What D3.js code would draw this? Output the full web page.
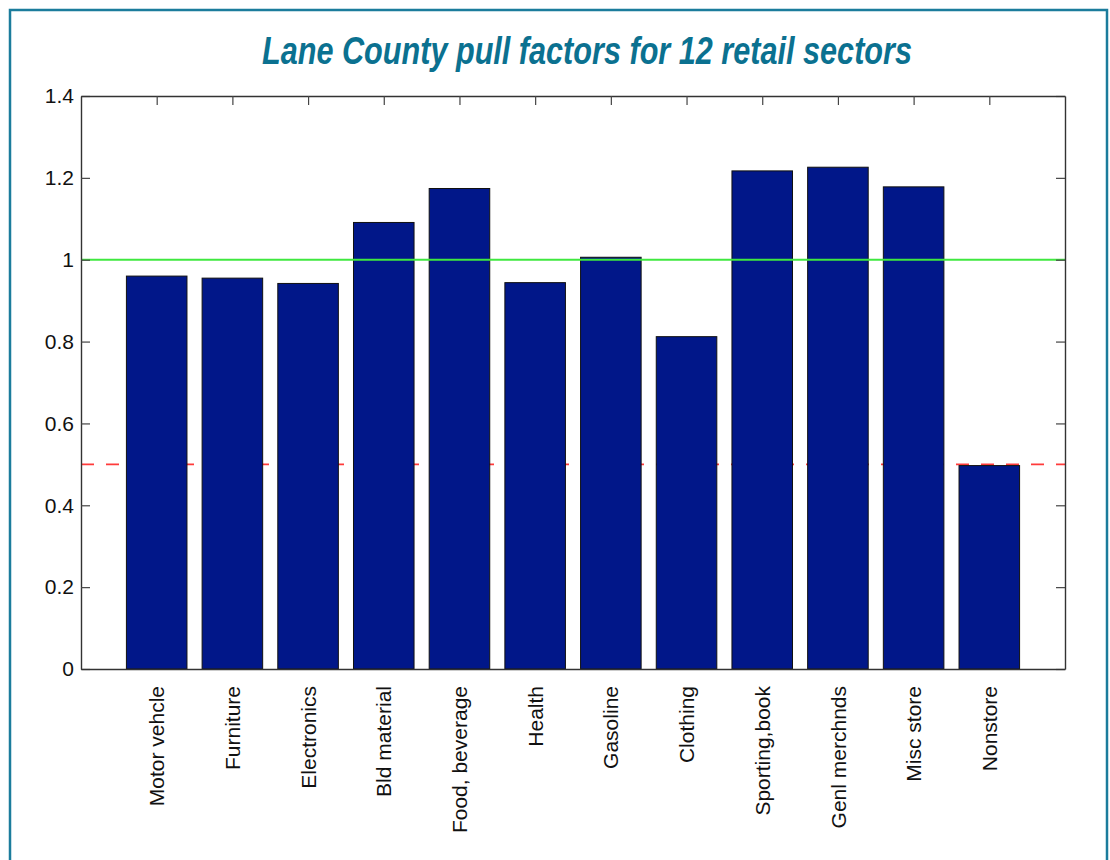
<!DOCTYPE html>
<html>
<head>
<meta charset="utf-8">
<script src="https://cdn.jsdelivr.net/npm/d3@7"></script>
<style>
  body { margin: 0; background: #fff; }
  svg { display: block; }
</style>
</head>
<body>
<svg id="chart" width="1110" height="860"></svg>
<script>
// sectors and pull factors
var sectors = ['Motor vehcle', 'Furniture', 'Electronics', 'Bld material', 'Food, beverage',
  'Health', 'Gasoline', 'Clothing', 'Sporting,book', 'Genl merchnds', 'Misc store', 'Nonstore'];
var pull = [0.960, 0.955, 0.942, 1.091, 1.174, 0.944, 1.006, 0.812, 1.217, 1.226, 1.178, 0.497];
var yTicks = [0, 0.2, 0.4, 0.6, 0.8, 1, 1.2, 1.4];
var refLines = [1, 0.5];

var plotL = 81, plotR = 1065, plotT = 96, plotB = 669;
var svg = d3.select('#chart');

// outer teal frame
svg.append('rect').attr('x', 10).attr('y', 10).attr('width', 1097).attr('height', 900)
  .attr('fill', 'none').attr('stroke', '#1b7c9c').attr('stroke-width', 2.5);

svg.append('text')
  .attr('x', 262).attr('y', 64)
  .attr('textLength', 650).attr('lengthAdjust', 'spacingAndGlyphs')
  .attr('font-family', '"Liberation Sans", Arial, sans-serif')
  .attr('font-size', 38).attr('font-weight', 'bold').attr('font-style', 'italic')
  .attr('fill', '#0b7190')
  .text('Lane County pull factors for 12 retail sectors');

var x = d3.scaleLinear().domain([0, sectors.length + 1]).range([plotL, plotR]);
var y = d3.scaleLinear().domain([0, 1.4]).range([plotB, plotT]);
var bw = x(0.8) - x(0);

// red dashed line sits behind the bars
svg.append('line')
  .attr('x1', plotL).attr('x2', plotR)
  .attr('y1', y(refLines[1])).attr('y2', y(refLines[1]))
  .attr('stroke', '#ff3b3b').attr('stroke-width', 1.6).attr('stroke-dasharray', '13,12');

svg.append('g').selectAll('rect').data(pull).join('rect')
  .attr('x', (d, i) => x(i + 1) - bw / 2)
  .attr('y', d => y(d))
  .attr('width', bw)
  .attr('height', d => y(0) - y(d))
  .attr('fill', '#011789').attr('stroke', '#111').attr('stroke-width', 1);

// green line on top
svg.append('line')
  .attr('x1', plotL).attr('x2', plotR)
  .attr('y1', y(refLines[0])).attr('y2', y(refLines[0]))
  .attr('stroke', '#3fe83f').attr('stroke-width', 2);

var fmt = d => d3.format('~g')(d);
var font = '"Liberation Sans", Arial, sans-serif';

var gl = svg.append('g').attr('transform', `translate(${plotL},0)`)
  .call(d3.axisLeft(y).tickValues(yTicks).tickFormat(fmt).tickSizeInner(-9).tickSizeOuter(0).tickPadding(7));
var gr = svg.append('g').attr('transform', `translate(${plotR},0)`)
  .call(d3.axisRight(y).tickValues(yTicks).tickFormat('').tickSizeInner(-9).tickSizeOuter(0));
var gt = svg.append('g').attr('transform', `translate(0,${plotT})`)
  .call(d3.axisTop(x).tickValues(d3.range(1, sectors.length + 1)).tickFormat('').tickSizeInner(-9).tickSizeOuter(0));
var gb = svg.append('g').attr('transform', `translate(0,${plotB})`)
  .call(d3.axisBottom(x).tickValues(d3.range(1, sectors.length + 1)).tickFormat(i => sectors[i - 1])
    .tickSizeInner(0).tickSizeOuter(0));

gb.selectAll('text')
  .attr('transform', 'rotate(-90)')
  .attr('text-anchor', 'end')
  .attr('x', -17).attr('y', 0).attr('dy', '0.34em');

[gl, gr, gt, gb].forEach(g => {
  g.select('.domain').attr('stroke', '#333').attr('stroke-width', 1.4);
  g.selectAll('.tick line').attr('stroke', '#444').attr('stroke-width', 1.2);
  g.selectAll('text').attr('font-family', font).attr('font-size', 21).attr('fill', '#111');
});
</script>
</body>
</html>
